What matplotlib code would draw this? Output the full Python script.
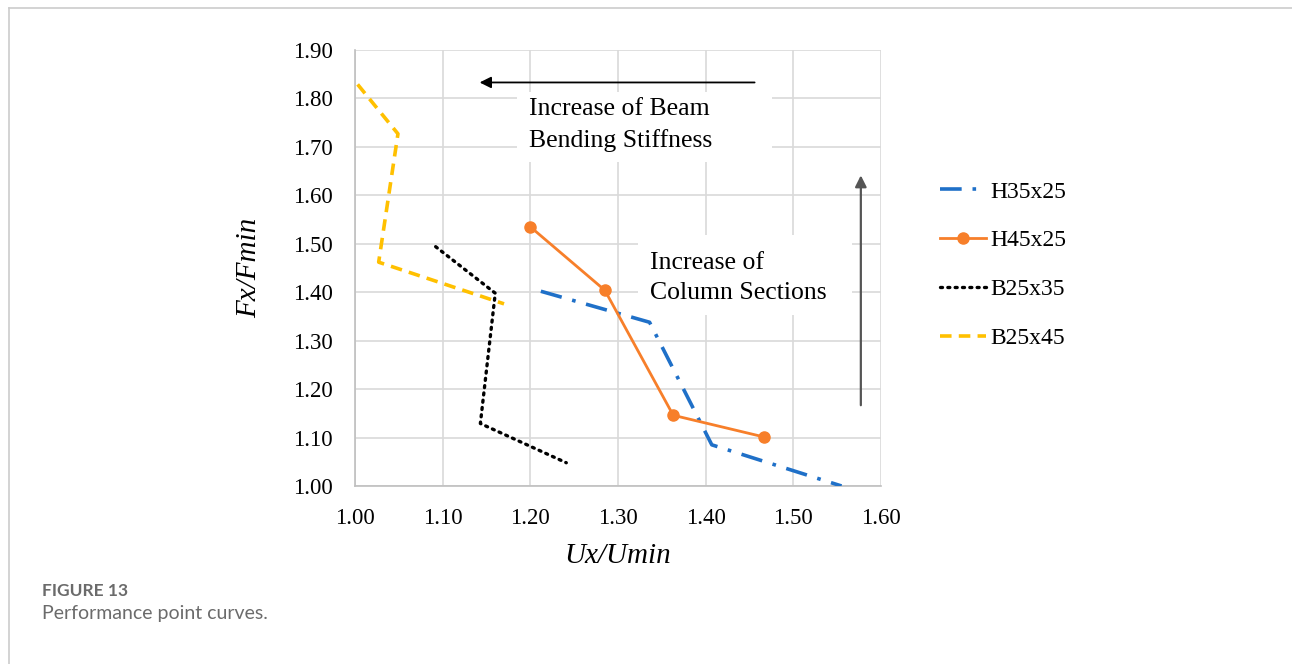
import matplotlib.pyplot as plt
from matplotlib.lines import Line2D
from matplotlib.patches import Rectangle

output = "out.png"

# data
h35_x = [1.212, 1.336, 1.407, 1.555]
h35_y = [1.402, 1.338, 1.085, 1.000]
h45_x = [1.200, 1.285, 1.363, 1.467]
h45_y = [1.535, 1.404, 1.146, 1.101]
b35_x = [1.092, 1.160, 1.143, 1.241]
b35_y = [1.494, 1.398, 1.129, 1.048]
b45_x = [1.003, 1.049, 1.027, 1.170]
b45_y = [1.829, 1.727, 1.462, 1.376]

x_ticks = [1.00, 1.10, 1.20, 1.30, 1.40, 1.50, 1.60]
y_ticks = [1.00, 1.10, 1.20, 1.30, 1.40, 1.50, 1.60, 1.70, 1.80, 1.90]

serif = "Liberation Serif"
fz = 16.5

fig = plt.figure(figsize=(12.92, 6.64), dpi=100)

# page frame lines (left and top)
fig.add_artist(Line2D([9 / 1292, 9 / 1292], [0, 1 - 8 / 664], color="#cccccc", lw=1.2))
fig.add_artist(Line2D([9 / 1292, 1], [1 - 8 / 664, 1 - 8 / 664], color="#cccccc", lw=1.2))

ax = fig.add_axes([355 / 1292, 1 - 486 / 664, 526 / 1292, 436 / 664])

ax.plot(h35_x, h35_y, color="#1f70c8", lw=2.6, dashes=(6, 3, 1, 3), label="H35x25", zorder=3)
ax.plot(h45_x, h45_y, color="#f77f2a", lw=2, marker="o", ms=8, label="H45x25", zorder=3)
ax.plot(b35_x, b35_y, color="black", lw=2.4, dashes=(0.6, 1.6), dash_capstyle="round",
        label="B25x35", zorder=3)
ax.plot(b45_x, b45_y, color="#ffc000", lw=2.6, dashes=(3.2, 2), label="B25x45", zorder=3)

ax.set_xlim(1.0, 1.6)
ax.set_ylim(1.0, 1.9)
ax.set_xticks(x_ticks)
ax.set_yticks(y_ticks)
ax.set_xticklabels(["%.2f" % v for v in x_ticks], fontfamily=serif, fontsize=fz)
ax.set_yticklabels(["%.2f" % v for v in y_ticks], fontfamily=serif, fontsize=fz)
ax.tick_params(axis="x", length=0, pad=16)
ax.tick_params(axis="y", length=0, pad=16)
ax.grid(True, color="#d9d9d9", lw=1.2)
ax.set_axisbelow(True)
for s in ["top", "right"]:
    ax.spines[s].set_visible(False)
for s in ["left", "bottom"]:
    ax.spines[s].set_color("#bfbfbf")
    ax.spines[s].set_linewidth(1.2)

ax.set_xlabel("Ux/Umin", fontfamily=serif, fontstyle="italic", fontsize=21, labelpad=10)
ax.set_ylabel("Fx/Fmin", fontfamily=serif, fontstyle="italic", fontsize=21, labelpad=22)

# white text boxes that hide the grid
ax.add_patch(Rectangle((1.185, 1.669), 0.2905, 0.144, facecolor="white", edgecolor="none",
                       zorder=1.5))
ax.add_patch(Rectangle((1.323, 1.353), 0.244, 0.165, facecolor="white", edgecolor="none",
                       zorder=1.5))

# annotations
ax.annotate("", xy=(1.139, 1.833), xytext=(1.459, 1.833),
            arrowprops=dict(arrowstyle="-|>", color="black", lw=1.3, mutation_scale=17))
ax.annotate("", xy=(1.577, 1.647), xytext=(1.577, 1.161),
            arrowprops=dict(arrowstyle="-|>", color="#555555", lw=1.6, mutation_scale=17))
ax.text(1.199, 1.745, "Increase of Beam\nBending Stiffness", fontfamily=serif, fontsize=18.5,
        va="center", ha="left", linespacing=1.5, zorder=4)
ax.text(1.336, 1.429, "Increase of\nColumn Sections", fontfamily=serif, fontsize=18.5,
        va="center", ha="left", linespacing=1.5, zorder=4)

leg = ax.legend(loc="upper left", frameon=False,
                prop={"family": serif, "size": 17}, handlelength=1.95, handletextpad=0.2,
                labelspacing=1.15, borderpad=0, borderaxespad=0)
leg.set_bbox_to_anchor((1.112, 0.699), transform=ax.transAxes)

fig.text(42 / 1292, 1 - 591 / 664, "FIGURE 13", fontfamily="Lato", fontweight="bold",
         fontsize=12.5, color="#6b6b6b", va="center")
fig.text(42 / 1292, 1 - 613 / 664, "Performance point curves.", fontfamily="Lato",
         fontsize=14, color="#6b6b6b", va="center")

plt.savefig(output, dpi=100)
plt.close()
